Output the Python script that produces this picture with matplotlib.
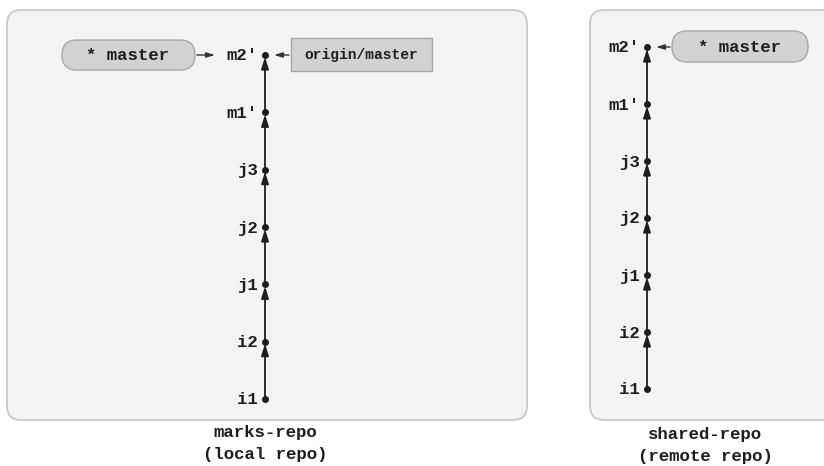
import matplotlib.pyplot as plt
from matplotlib.patches import FancyBboxPatch

# Данные: коммиты (снизу вверх) и ветки
commits = ["i1", "i2", "j1", "j2", "j3", "m1'", "m2'"]
local_title = ["marks-repo", "(local repo)"]
remote_title = ["shared-repo", "(remote repo)"]
local_branch = "* master"
local_remote_ref = "origin/master"
remote_branch = "* master"

MONO = ["Liberation Mono", "DejaVu Sans Mono"]
INK = "#1e1e1e"

fig = plt.figure(figsize=(8.24, 4.66), dpi=100)
ax = fig.add_axes([0, 0, 1, 1])
ax.set_xlim(0, 824)
ax.set_ylim(466, 0)
ax.axis("off")


def panel(x0, y0, x1, y1):
    ax.add_patch(FancyBboxPatch((x0, y0), x1 - x0, y1 - y0,
                                boxstyle="round,pad=0,rounding_size=14",
                                fc="#f3f3f3", ec="#c9c9c9", lw=1.3, zorder=0))


def history(x, y_top, y_bottom):
    step = (y_bottom - y_top) / (len(commits) - 1)
    ys = [y_bottom - i * step for i in range(len(commits))]
    for i in range(len(commits) - 1):
        ax.annotate("", xy=(x, ys[i + 1] + 2), xytext=(x, ys[i]),
                    arrowprops=dict(arrowstyle="-|>,head_length=0.7,head_width=0.22",
                                    color=INK, lw=1.3, shrinkA=0, shrinkB=0))
    ax.plot([x] * len(ys), ys, "o", color=INK, ms=4, zorder=3)
    for name, y in zip(commits, ys):
        ax.text(x - 7, y + 1, name, ha="right", va="center", family=MONO,
                weight="bold", fontsize=12.5, color=INK)
    return ys


def small_arrow(x_from, x_to, y):
    ax.annotate("", xy=(x_to, y), xytext=(x_from, y),
                arrowprops=dict(arrowstyle="-|>,head_length=0.5,head_width=0.15",
                                color="#333333", lw=1.0, shrinkA=0, shrinkB=0))


# Левая панель (локальный репозиторий)
panel(7, 10, 527, 420)
ys_local = history(265, 55, 399)
ax.add_patch(FancyBboxPatch((62, 40), 133, 30, boxstyle="round,pad=0,rounding_size=15",
                            fc="#d2d2d2", ec="#a8a8a8", lw=1.0, zorder=2))
ax.text(128, 56, local_branch, ha="center", va="center", family=MONO,
        weight="bold", fontsize=12.5, color=INK)
small_arrow(197, 215, ys_local[-1])
ax.add_patch(plt.Rectangle((291, 38), 141, 33, fc="#d2d2d2", ec="#a8a8a8", lw=1.0, zorder=2))
ax.text(361, 55, local_remote_ref, ha="center", va="center", family=MONO,
        weight="bold", fontsize=10.5, color=INK)
small_arrow(289, 274, ys_local[-1])
ax.text(265, 432, local_title[0], ha="center", va="center", family=MONO,
        weight="bold", fontsize=12.5, color=INK)
ax.text(265, 454, local_title[1], ha="center", va="center", family=MONO,
        weight="bold", fontsize=12.5, color=INK)

# Правая панель (удалённый репозиторий)
panel(590, 10, 836, 420)
ys_remote = history(647, 47, 389)
ax.add_patch(FancyBboxPatch((672, 31), 136, 31, boxstyle="round,pad=0,rounding_size=15",
                            fc="#d2d2d2", ec="#a8a8a8", lw=1.0, zorder=2))
ax.text(740, 47, remote_branch, ha="center", va="center", family=MONO,
        weight="bold", fontsize=12.5, color=INK)
small_arrow(670, 656, ys_remote[-1])
ax.text(705, 435, remote_title[0], ha="center", va="center", family=MONO,
        weight="bold", fontsize=12.5, color=INK)
ax.text(705, 456, remote_title[1], ha="center", va="center", family=MONO,
        weight="bold", fontsize=12.5, color=INK)

fig.savefig("out.png", dpi=100)
